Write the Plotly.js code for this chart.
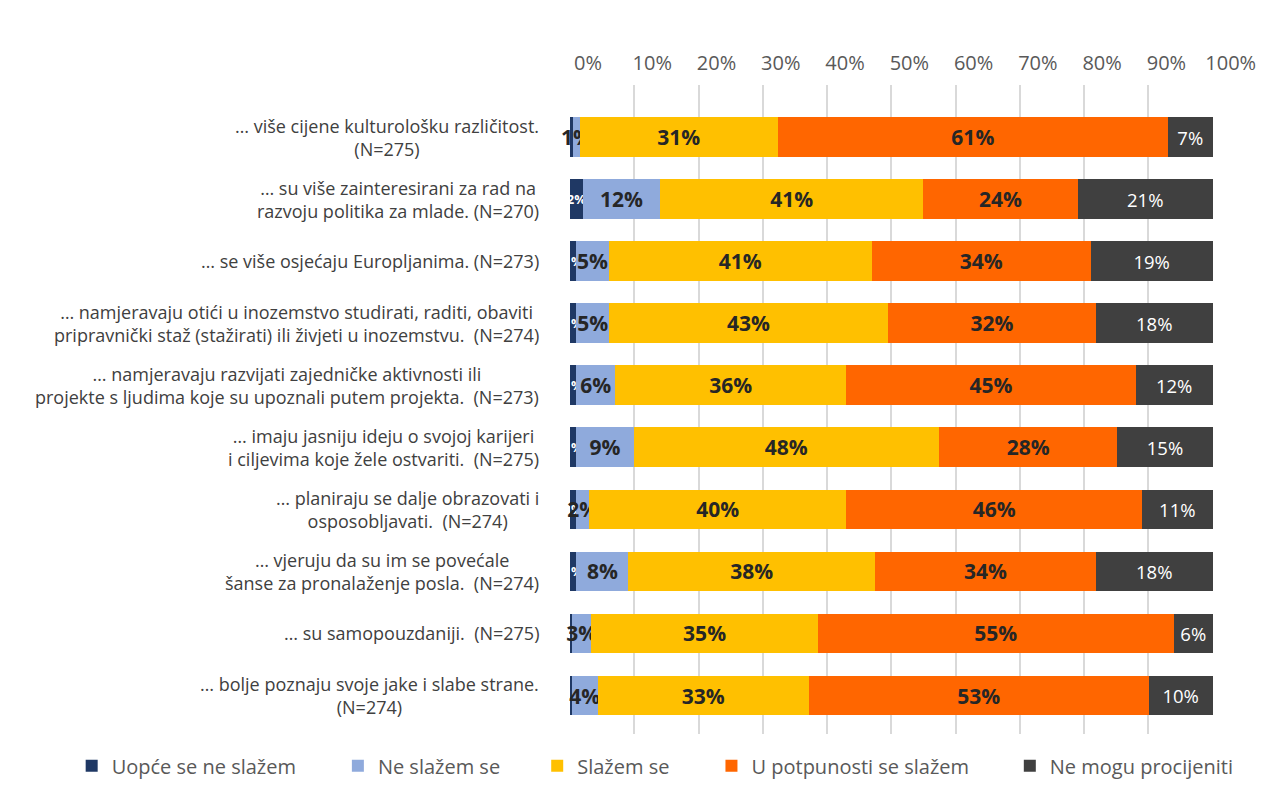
<!DOCTYPE html>
<html>
<head>
<meta charset="utf-8">
<script src="https://cdn.plot.ly/plotly-3.0.1.min.js"></script>
<style>html,body{margin:0;padding:0;background:#fff;}#chart{width:1283px;height:798px;}</style>
</head>
<body>
<div id="chart"></div>
<script>
const categories = [
  "… više cijene kulturološku različitost.<br>(N=275)",
  "… su više zainteresirani za rad na<br>razvoju politika za mlade. (N=270)",
  "… se više osjećaju Europljanima. (N=273)",
  "… namjeravaju otići u inozemstvo studirati, raditi, obaviti<br>pripravnički staž (stažirati) ili živjeti u inozemstvu.  (N=274)",
  "… namjeravaju razvijati zajedničke aktivnosti ili<br>projekte s ljudima koje su upoznali putem projekta.  (N=273)",
  "… imaju jasniju ideju o svojoj karijeri<br>i ciljevima koje žele ostvariti.  (N=275)",
  "… planiraju se dalje obrazovati i<br>osposobljavati.  (N=274)",
  "… vjeruju da su im se povećale<br>šanse za pronalaženje posla.  (N=274)",
  "… su samopouzdaniji.  (N=275)",
  "… bolje poznaju svoje jake i slabe strane.<br>(N=274)"
];
const seriesNames = ["Uopće se ne slažem", "Ne slažem se", "Slažem se", "U potpunosti se slažem", "Ne mogu procijeniti"];
const uopce   = [0.5, 2, 1, 1, 1, 1, 1, 1, 0.3, 0.3];
const neSlazem = [1, 12, 5, 5, 6, 9, 2, 8, 3, 4];
const slazem  = [31, 41, 41, 43, 36, 48, 40, 38, 35, 33];
const uPotpunosti = [61, 24, 34, 32, 45, 28, 46, 34, 55, 53];
const neMogu  = [7, 21, 19, 18, 12, 15, 11, 18, 6, 10];
const tickVals = [0,10,20,30,40,50,60,70,80,90,100];
const tickText = ["0%","10%","20%","30%","40%","50%","60%","70%","80%","90%","100%"];

const colors = ["#1F3864", "#8FAADC", "#FFC000", "#FF6600", "#404040"];
const textFonts = [
  {family:"Open Sans", size:13, color:"#FFFFFF", weight:"bold"},
  {family:"Open Sans", size:21, color:"#262626", weight:"bold"},
  {family:"Open Sans", size:21, color:"#262626", weight:"bold"},
  {family:"Open Sans", size:21, color:"#262626", weight:"bold"},
  {family:"Open Sans", size:18.5, color:"#FFFFFF"}
];
const allSeries = [uopce, neSlazem, slazem, uPotpunosti, neMogu];
const ids = categories.map((c,i)=>"c"+i);
const legendIds = ["legend", "legend2", "legend3", "legend4", "legend5"];
const legendX = [-0.775, -0.361, -0.051, 0.22, 0.684];

const traces = allSeries.map((vals, k) => ({
  type: "bar",
  orientation: "h",
  name: seriesNames[k],
  legend: legendIds[k],
  y: ids,
  x: vals,
  text: vals.map(v => v >= 1 ? Math.round(v) + "%" : ""),
  textposition: "inside",
  insidetextanchor: "middle",
  textangle: 0,
  constraintext: "none",
  cliponaxis: false,
  textfont: textFonts[k],
  marker: {color: colors[k], line: {width: 0}},
  hoverinfo: "name+x"
}));

const annotations = categories.map((c, i) => ({
  xref: "paper", yref: "y",
  x: -0.045, y: ids[i],
  xanchor: "right", yanchor: "middle",
  align: "center",
  text: c,
  showarrow: false,
  font: {family: "Open Sans", size: 18, color: "#404040"}
}));

const layout = {
  width: 1283, height: 798,
  paper_bgcolor: "#fff", plot_bgcolor: "#fff",
  margin: {l: 570, r: 70, t: 85, b: 64},
  barmode: "stack",
  barnorm: "percent",
  bargap: 0.36,
  showlegend: true,
  xaxis: {
    side: "top",
    range: [0, 100.05],
    tickvals: tickVals,
    ticktext: tickText,
    showgrid: true,
    gridcolor: "#D9D9D9",
    gridwidth: 2,
    zeroline: false,
    showline: false,
    ticks: "",
    ticklabelshift: 18,
    ticklabelstandoff: 10,
    tickfont: {family: "Open Sans", size: 20, color: "#595959"},
    fixedrange: true
  },
  yaxis: {
    type: "category",
    range: [9.62, -0.84],
    showticklabels: false,
    ticks: "",
    showgrid: false,
    zeroline: false,
    showline: false,
    fixedrange: true
  },
  annotations: annotations
};
legendIds.forEach((id, k) => {
  layout[id] = {
    orientation: "h",
    x: legendX[k], xanchor: "left",
    y: -0.049, yanchor: "middle",
    font: {family: "Open Sans", size: 20, color: "#595959"},
    bgcolor: "rgba(0,0,0,0)"
  };
});

Plotly.newPlot("chart", traces, layout, {displayModeBar: false, staticPlot: true});
</script>
</body>
</html>
